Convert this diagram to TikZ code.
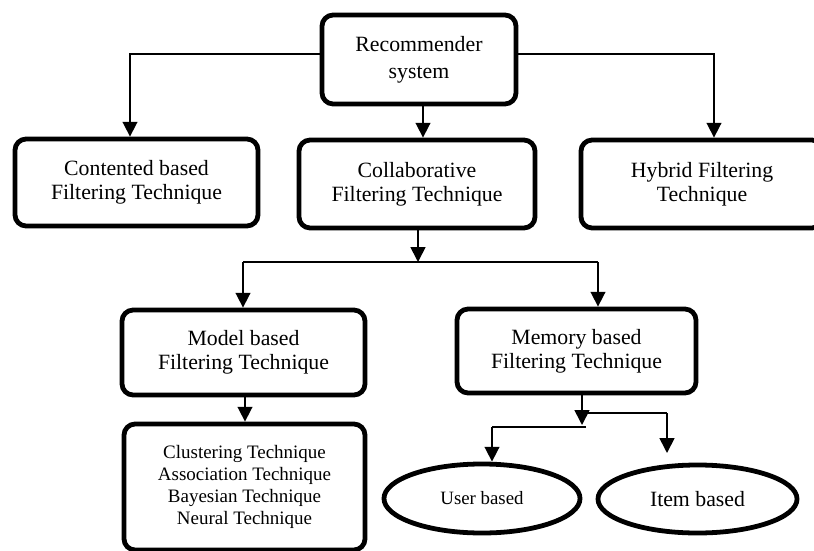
\documentclass[tikz,border=0pt]{standalone}
\usepackage{fontspec}
\setmainfont{Liberation Serif}
\usepackage{xcolor}
\usepackage{tikz}
\usetikzlibrary{shapes.geometric, arrows.meta, positioning}

\begin{document}
\begin{tikzpicture}[
    x=0.025cm, y=-0.025cm,
    stepbox/.style={draw, line width=3.4pt, rounded corners=8pt, inner sep=0pt, align=center, font=\fontsize{15.5}{17}\selectfont},
    leafnode/.style={draw, ellipse, line width=3.4pt, inner sep=0pt},
    link/.style={line width=1.2pt},
    arr/.style={link, -{Triangle[length=10.5pt, width=10.5pt]}},
]
    \useasboundingbox (0,0) rectangle (814,551);

    % Top level
    \node[stepbox, minimum width=4.85cm, minimum height=2.225cm, font=\fontsize{15.5}{19}\selectfont] (rec) at (419,59.5) {Recommender\\system};

    % Second level
    \node[stepbox, minimum width=6.075cm, minimum height=2.175cm] (cont) at (136.5,182.5) {Contented based\\Filtering Technique};
    \node[stepbox, minimum width=5.9cm, minimum height=2.2cm] (collab) at (417,184) {Collaborative\\Filtering Technique};
    \node[stepbox, minimum width=6.05cm, minimum height=2.2cm] (hybrid) at (702,184) {Hybrid Filtering\\Technique};

    % Third level
    \node[stepbox, minimum width=6.075cm, minimum height=2.125cm] (model) at (243.5,352.5) {Model based\\Filtering Technique};
    \node[stepbox, minimum width=5.975cm, minimum height=2.1cm] (memory) at (576.5,351) {Memory based\\Filtering Technique};

    % Leaves
    \node[stepbox, minimum width=6.025cm, minimum height=3.15cm, font=\fontsize{13.5}{15.8}\selectfont] (tech) at (244.5,487) {Clustering Technique\\Association Technique\\Bayesian Technique\\Neural Technique};
    \node[leafnode, minimum width=4.9cm, minimum height=1.725cm, font=\fontsize{13.4}{15}\selectfont] (user) at (482,498.5) {User based};
    \node[leafnode, minimum width=4.975cm, minimum height=1.7cm, font=\fontsize{15.5}{16.5}\selectfont] (item) at (697.5,499) {Item based};

    % Junctions
    \coordinate (jc) at (418,262);
    \coordinate (jl) at (243,262);
    \coordinate (jr) at (598,262);
    \coordinate (jm) at (582,425);
    \coordinate (ju) at (492,427);
    \coordinate (jt) at (582,413);
    \coordinate (ji) at (667,413);
    \coordinate (ie) at (667,453);

    % Connectors from the top
    \draw[arr] (rec.west |- 0,54) -| (cont.north -| 130,0);
    \draw[arr] (rec.east |- 0,54) -| (hybrid.north -| 714,0);
    \draw[arr] (rec.south -| 423,0) -- (collab.north -| 423,0);

    % Collaborative split
    \draw[arr] (collab.south -| jc) -- (jc);
    \draw[link] (jl) -- (jr);
    \draw[arr] (jl) -- (model.north -| jl);
    \draw[arr] (jr) -- (memory.north -| jr);
    \draw[arr] (model.south -| 245,0) -- (tech.north -| 245,0);

    % Memory split
    \draw[arr] (memory.south -| jm) -- (jm);
    \draw[link] (586,427) -- (ju);
    \draw[arr] (ju) -- (user.north -| ju);
    \draw[link] (jt) -- (ji);
    \draw[arr] (ji) -- (ie);
\end{tikzpicture}
\end{document}
